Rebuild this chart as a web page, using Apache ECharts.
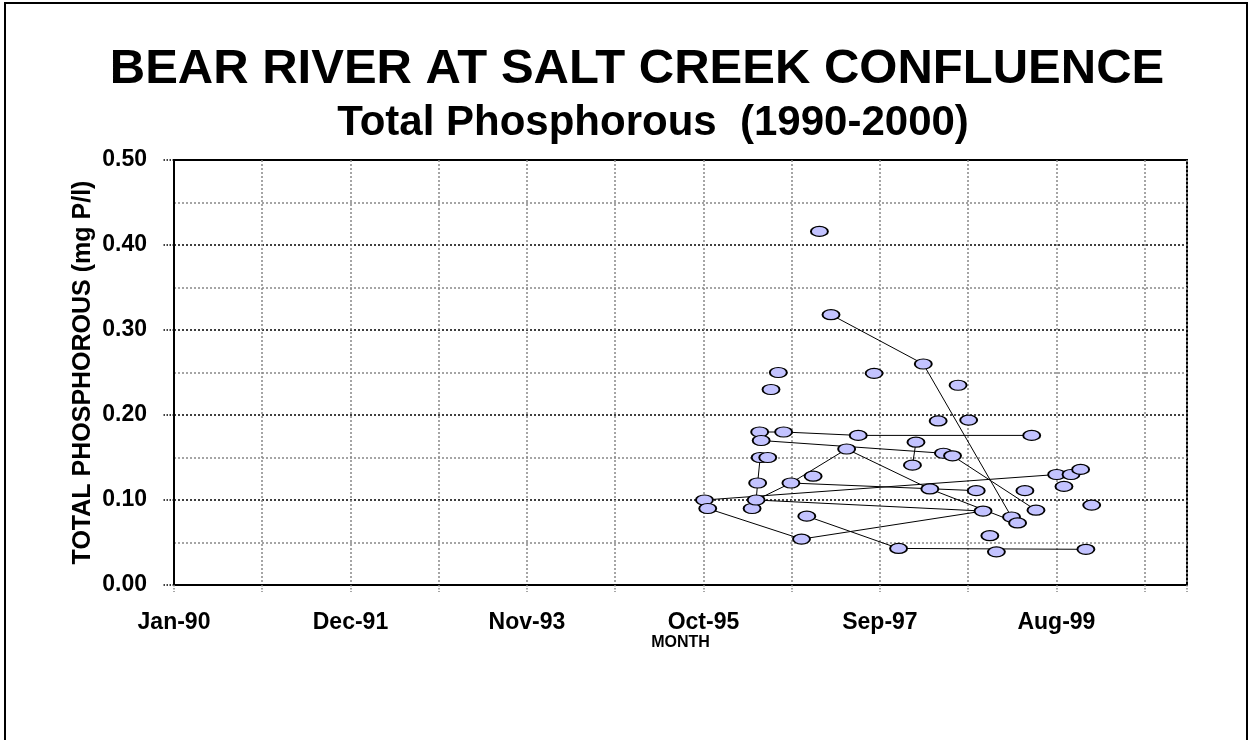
<!DOCTYPE html>
<html>
<head>
<meta charset="utf-8">
<script src="https://cdn.jsdelivr.net/npm/echarts@6/dist/echarts.min.js"></script>
<style>
html, body { margin: 0; padding: 0; background: #fff; }
#chart { width: 1251px; height: 740px; }
</style>
</head>
<body>
<div id="chart"></div>
<script>
// sample dates and total phosphorous (mg P/l)
var sampleDates = [
    '1995-10-06', '1995-10-19', '1996-04-12', '1996-04-28', '1996-05-04',
    '1996-05-12', '1996-05-14', '1996-05-18', '1996-06-13', '1996-06-26',
    '1996-07-25', '1996-08-15', '1996-09-13', '1996-10-25', '1996-11-15',
    '1996-12-10', '1997-01-04', '1997-02-19', '1997-04-22', '1997-06-07',
    '1997-08-09', '1997-11-14', '1998-01-08', '1998-01-22', '1998-02-20',
    '1998-03-18', '1998-04-20', '1998-05-11', '1998-06-16', '1998-07-08',
    '1998-08-19', '1998-09-18', '1998-10-15', '1998-11-11', '1998-12-07',
    '1999-02-05', '1999-03-01', '1999-03-30', '1999-04-26', '1999-05-13',
    '1999-08-03', '1999-09-01', '1999-09-29', '1999-11-06', '1999-11-27',
    '1999-12-20'
];
var phosphorus = [
    0.100, 0.090, 0.090, 0.100, 0.120,
    0.180, 0.150, 0.170, 0.150, 0.230,
    0.250, 0.180, 0.120, 0.054, 0.081,
    0.128, 0.416, 0.318, 0.160, 0.176,
    0.249, 0.043, 0.141, 0.168, 0.260,
    0.113, 0.193, 0.155, 0.152, 0.235,
    0.194, 0.111, 0.087, 0.058, 0.039,
    0.080, 0.073, 0.111, 0.176, 0.088,
    0.130, 0.116, 0.130, 0.136, 0.042,
    0.094
];
// order in which the sheet rows are joined by the line (1-based sample numbers)
var lineRuns = [
    [9, 7, 5, 4, 13, 19, 26, 37],
    [13, 32],
    [18, 25, 36],
    [41, 1, 2, 14, 33, 4, 3],
    [45, 22, 15],
    [6, 12, 20, 39],
    [8, 28],
    [24, 23],
    [29, 40]
];
var monthNames = ['Jan', 'Feb', 'Mar', 'Apr', 'May', 'Jun', 'Jul', 'Aug', 'Sep', 'Oct', 'Nov', 'Dec'];

var DAY = 86400000;
var ORIGIN = Date.UTC(1990, 0, 1);
function dayNum(s) {
    var p = s.split('-');
    return (Date.UTC(+p[0], +p[1] - 1, +p[2]) - ORIGIN) / DAY;
}

var points = [];
for (var i = 0; i < sampleDates.length; i++) {
    points.push([dayNum(sampleDates[i]), phosphorus[i]]);
}
var lineData = [];
lineRuns.forEach(function (run, r) {
    if (r > 0) lineData.push(['-', '-']);
    run.forEach(function (n) { lineData.push(points[n - 1]); });
});

var FONT = '"Liberation Sans", Arial, sans-serif';
var myChart = echarts.init(document.getElementById('chart'));

var option = {
    animation: false,
    backgroundColor: '#fff',
    graphic: [
        {
            type: 'rect',
            shape: { x: 5, y: 3, width: 1242, height: 800 },
            style: { fill: 'none', stroke: '#000', lineWidth: 2 },
            silent: true
        },
        {
            type: 'text', x: 637, y: 69,
            style: {
                text: 'BEAR RIVER AT SALT CREEK CONFLUENCE',
                font: 'bold 49px ' + FONT, fill: '#000',
                textAlign: 'center', textVerticalAlign: 'middle'
            }
        },
        {
            type: 'text', x: 653, y: 123,
            style: {
                text: 'Total Phosphorous  (1990-2000)',
                font: 'bold 42px ' + FONT, fill: '#000',
                textAlign: 'center', textVerticalAlign: 'middle'
            }
        }
    ],
    grid: {
        left: 174, top: 160, right: 64, bottom: 155,
        show: true, borderColor: '#000', borderWidth: 2,
        containLabel: false
    },
    xAxis: {
        type: 'value',
        min: 0, max: 4018, interval: 350,
        name: 'MONTH',
        nameLocation: 'middle',
        nameGap: 50,
        nameMoveOverlap: false,
        nameTextStyle: { fontFamily: FONT, fontWeight: 'bold', fontSize: 16, color: '#000' },
        axisLine: { show: true, lineStyle: { color: '#000', width: 2 } },
        axisTick: { show: true, length: 7, lineStyle: { color: '#888', type: 'dotted', width: 1.5 } },
        axisLabel: {
            margin: 26,
            fontFamily: FONT, fontWeight: 'bold', fontSize: 23, color: '#000',
            formatter: function (v) {
                if (v % 700 !== 0) return '';
                var d = new Date(ORIGIN + v * DAY);
                return monthNames[d.getUTCMonth()] + '-' + String(d.getUTCFullYear()).slice(2);
            }
        },
        splitLine: { show: true, lineStyle: { color: '#888', type: [2, 2], width: 1.5 } }
    },
    yAxis: {
        type: 'value',
        min: 0, max: 0.5, interval: 0.1,
        name: 'TOTAL PHOSPHOROUS (mg P/l)',
        nameLocation: 'middle',
        nameGap: 78,
        nameMoveOverlap: false,
        nameRotate: 90,
        nameTextStyle: { fontFamily: FONT, fontWeight: 'bold', fontSize: 25, color: '#000' },
        axisLine: { show: true, lineStyle: { color: '#000', width: 2 } },
        axisTick: { show: true, length: 11, lineStyle: { color: '#000', type: 'dotted', width: 1.5 } },
        axisLabel: {
            margin: 27,
            fontFamily: FONT, fontWeight: 'bold', fontSize: 23, color: '#000',
            formatter: function (v) { return v.toFixed(2); }
        },
        splitLine: { show: true, lineStyle: { color: '#000', type: [2, 2], width: 1.5 } },
        minorTick: { show: false, splitNumber: 2 },
        minorSplitLine: { show: true, lineStyle: { color: '#888', type: [2, 2], width: 1.5 } }
    },
    series: [
        {
            type: 'line',
            data: lineData,
            symbol: 'none',
            connectNulls: false,
            lineStyle: { color: '#000', width: 1 },
            silent: true,
            z: 2
        },
        {
            type: 'scatter',
            data: points,
            symbol: 'circle',
            symbolSize: [17, 10],
            itemStyle: { color: '#C3C3FF', borderColor: '#000', borderWidth: 1.5, opacity: 1 },
            z: 3
        }
    ]
};
myChart.setOption(option);
</script>
</body>
</html>
